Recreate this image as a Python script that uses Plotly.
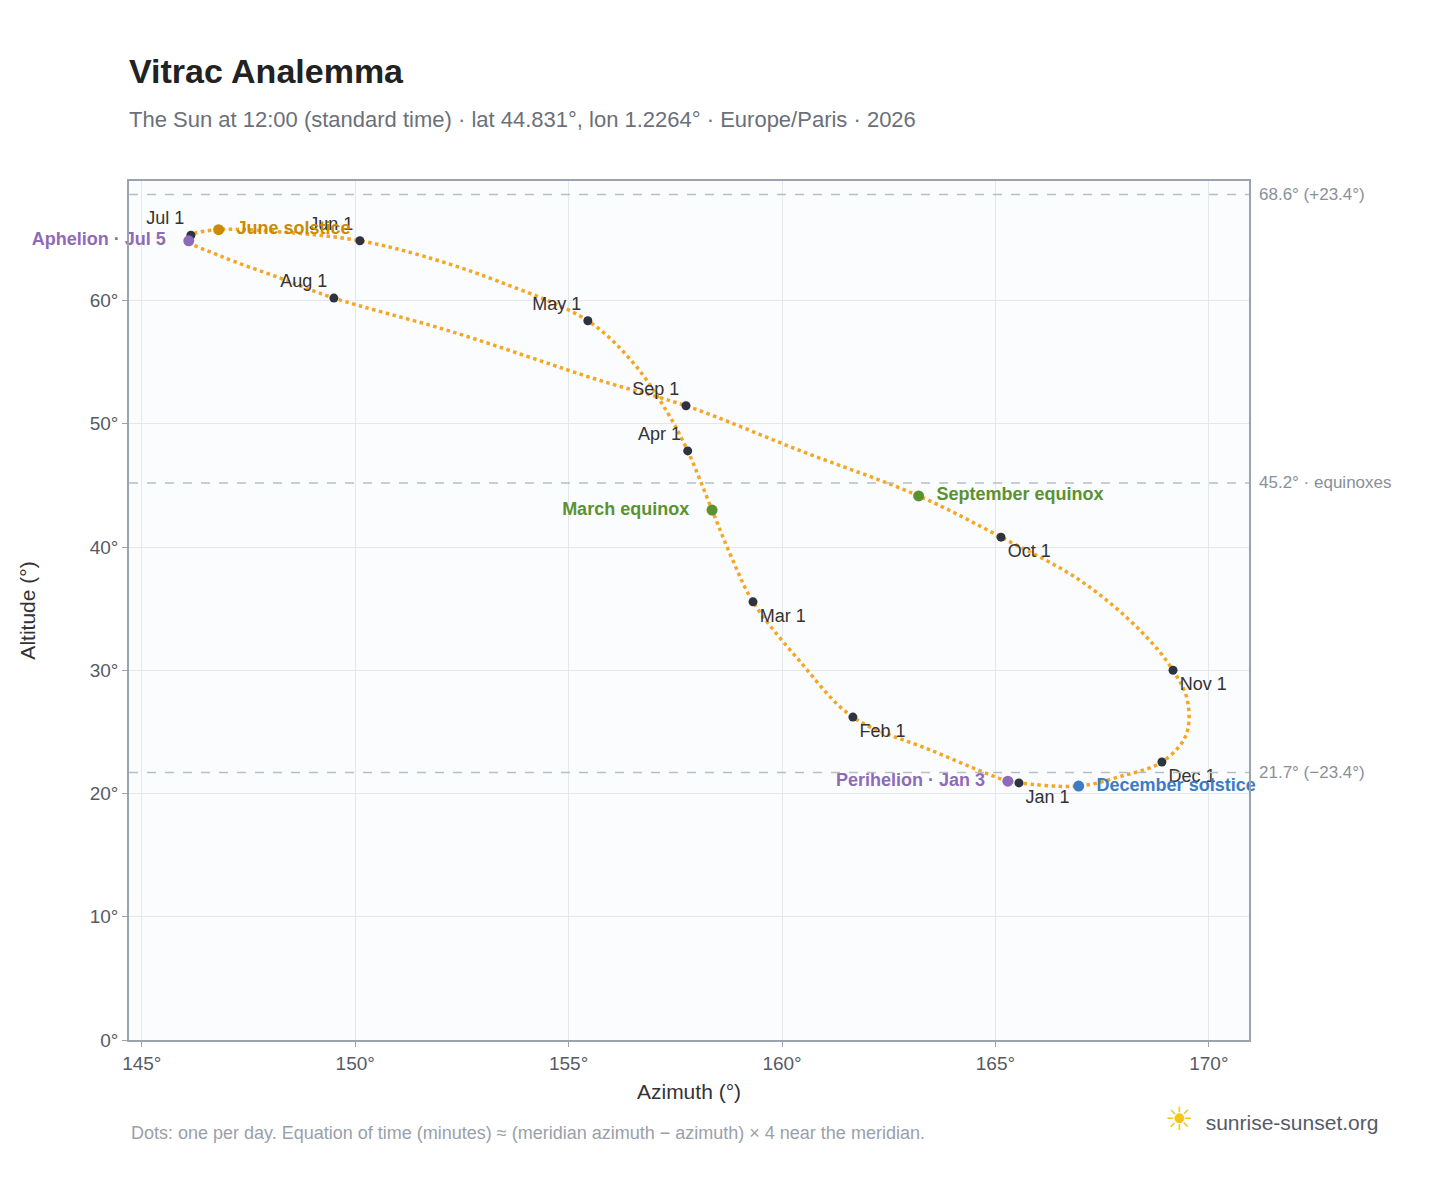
import plotly.graph_objects as go

# sun path (azimuth, altitude), in date order through the year
path_az = [165.55, 165.29, 163.5, 161.66, 160.4, 159.32, 158.8, 158.36, 157.79, 157.3, 156.5,
           155.45, 153.4, 151.6, 150.11, 148.5, 146.8, 146.15, 146.1, 146.85, 148.26, 149.5,
           152.24, 155.75, 157.75, 160.44, 163.2, 165.13, 167.0, 168.4, 169.16, 169.5, 169.46,
           168.9, 167.94, 166.95, 165.55]
path_alt = [20.86, 21.0, 23.5, 26.2, 30.8, 35.55, 39.3, 43.0, 47.8, 51.0, 55.0,
            58.36, 61.5, 63.6, 64.85, 65.5, 65.75, 65.3, 64.85, 63.6, 61.8, 60.2,
            57.5, 53.5, 51.46, 47.8, 44.15, 40.8, 37.25, 33.2, 30.0, 27.5, 24.7,
            22.56, 21.4, 20.6, 20.86]

months = ["Jan 1", "Feb 1", "Mar 1", "Apr 1", "May 1", "Jun 1", "Jul 1", "Aug 1",
          "Sep 1", "Oct 1", "Nov 1", "Dec 1"]
month_az = [165.55, 161.66, 159.32, 157.79, 155.45, 150.11, 146.15, 149.5, 157.75, 165.13, 169.16, 168.9]
month_alt = [20.86, 26.2, 35.55, 47.8, 58.36, 64.85, 65.3, 60.2, 51.46, 40.8, 30.0, 22.56]
month_pos = ["bottom right", "bottom right", "bottom right", "top left", "top left", "top left",
             "top left", "top left", "top left", "bottom right", "bottom right", "bottom right"]

events = ["June solstice", "Aphelion · Jul 5", "March equinox", "September equinox",
          "December solstice", "Perihelion · Jan 3"]
event_az = [146.8, 146.1, 158.36, 163.2, 166.95, 165.29]
event_alt = [65.75, 64.85, 43.0, 44.15, 20.6, 21.0]
event_col = ["#ca8a04", "#8e6bb8", "#5a9231", "#5a9231", "#3b7cc4", "#8e6bb8"]
event_pos = ["middle right", "middle left", "middle left", "middle right", "middle right", "middle left"]

ref_alt = [68.6, 45.2, 21.7]
ref_text = ["68.6° (+23.4°)", "45.2° · equinoxes", "21.7° (−23.4°)"]

fig = go.Figure()
fig.add_trace(go.Scatter(x=path_az, y=path_alt, mode="lines", line_shape="spline",
                         line=dict(color="#f5a623", width=3.5, dash="dot"), hoverinfo="skip"))
fig.add_trace(go.Scatter(x=month_az, y=month_alt, mode="markers+text", text=months,
                         textposition=month_pos, textfont=dict(size=18, color="#333"),
                         marker=dict(color="#2d3440", size=9)))
for name, ax, al, c, p in zip(events, event_az, event_alt, event_col, event_pos):
    label = f"<b>{name}</b>"
    label = label + "   " if p == "middle left" else "  " + label
    fig.add_trace(go.Scatter(x=[ax], y=[al], mode="markers+text", text=[label],
                             textposition=p, textfont=dict(size=18, color=c),
                             marker=dict(color=c, size=11), cliponaxis=False))

for a, t in zip(ref_alt, ref_text):
    fig.add_hline(y=a, line=dict(color="#b8bec8", width=1.5, dash="dash"))
    fig.add_annotation(x=1, xref="paper", y=a, text=t, showarrow=False, xanchor="left",
                       xshift=8, font=dict(size=17, color="#8a909a"))

fig.add_annotation(x=0, xref="paper", y=-0.122, yref="paper", showarrow=False, xanchor="left",
                   text="Dots: one per day. Equation of time (minutes) ≈ (meridian azimuth − azimuth) × 4 near the meridian.",
                   font=dict(size=18, color="#9aa0aa"))
fig.add_annotation(x=1.117, xref="paper", y=-0.115, yref="paper", showarrow=False, xanchor="right",
                   text="<span style='color:#f5c518;font-size:32px'>☀</span>  sunrise-sunset.org",
                   font=dict(size=21, color="#555b66"))

fig.update_layout(
    width=1448, height=1188, showlegend=False,
    paper_bgcolor="white", plot_bgcolor="#fbfcfe",
    font=dict(family="Liberation Sans, Arial, sans-serif", color="#555b66", size=19),
    margin=dict(l=121, r=207, t=173, b=156),
    title=dict(text="<b>Vitrac Analemma</b><br><span style='font-size:22px;color:#6b7079'>"
                    "The Sun at 12:00 (standard time) · lat 44.831°, lon 1.2264° · Europe/Paris · 2026</span>",
               x=0, xref="paper", y=0.947, yanchor="top", pad=dict(t=12), font=dict(size=34, color="#222")),
    xaxis=dict(range=[144.7, 170.94], dtick=5, ticksuffix="°", showgrid=True, gridcolor="#e4e7ec",
               zeroline=False, showline=True, mirror=True, linecolor="#9aa3ae", linewidth=1.5,
               ticks="outside", tickcolor="#9aa3ae", ticklen=5,
               title=dict(text="Azimuth (°)", font=dict(size=21, color="#333"), standoff=12)),
    yaxis=dict(range=[0, 69.7], dtick=10, ticksuffix="°", showgrid=True, gridcolor="#e4e7ec",
               zeroline=False, showline=True, mirror=True, linecolor="#9aa3ae", linewidth=1.5,
               ticks="outside", tickcolor="#9aa3ae", ticklen=5,
               title=dict(text="Altitude (°)", font=dict(size=21, color="#333"), standoff=48)),
)
fig.write_html("out.html")
